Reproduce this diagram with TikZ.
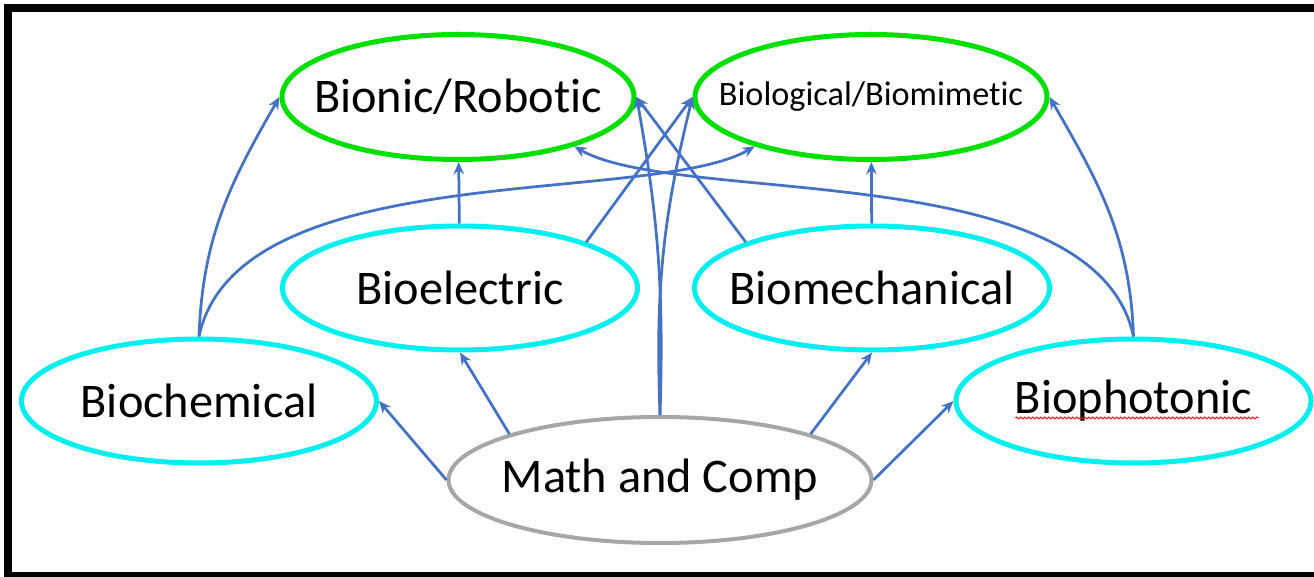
\documentclass[tikz,border=0pt]{standalone}
\usepackage{fontspec}
\setmainfont{Carlito}[Ligatures=NoCommon]
\usetikzlibrary{shapes.geometric,arrows.meta,decorations.pathmorphing}

\definecolor{ovalgreen}{HTML}{00E000}
\definecolor{ovalcyan}{HTML}{00F0F0}
\definecolor{ovalgray}{HTML}{A6A6A6}
\definecolor{linkblue}{HTML}{4472C4}

\tikzset{
	oval/.style={ellipse, draw=ovalcyan, line width=0.1cm, minimum width=7.1cm, minimum height=2.48cm, inner xsep=-1cm, inner ysep=0pt, font=\fontsize{27.5}{33}\selectfont},
	goal/.style={oval, draw=ovalgreen, minimum width=7.04cm, minimum height=2.5cm},
	base/.style={oval, draw=ovalgray, line width=0.08cm, minimum width=8.46cm, minimum height=2.52cm},
	link/.style={draw=linkblue, line width=0.055cm, -{Stealth[length=7pt,width=6pt]}}
}

\begin{document}
\begin{tikzpicture}
	\useasboundingbox (0,0) rectangle (26.28,11.52);
	%frame
		\draw[line width=0.16cm] (26.6,11.36) -- (0.16,11.36) -- (0.16,0) -- (26.6,0);
	%top row
		\node[goal] (bionic) at (9.16,9.58) {Bionic/Robotic};
		\node[goal, font=\fontsize{19.5}{23}\selectfont] (biomim) at (17.42,9.58) {Biological/Biomimetic};
	%middle row
		\node[oval] (elec) at (9.2,5.76) {Bioelectric};
		\node[oval] (mech) at (17.44,5.76) {Biomechanical};
	%bottom row
		\node[oval] (chem) at (3.98,3.5) {Biochemical};
		\node[oval] (photo) at (22.67,3.5) {Biophotonic};
		\node[base] (math) at (13.2,1.92) {Math and Comp};
	%spell check mark
		\draw[red, line width=0.02cm, decorate, decoration={snake, segment length=0.08cm, amplitude=0.02cm}] ([xshift=-2.36cm,yshift=-0.34cm]photo.center) -- ([xshift=2.5cm,yshift=-0.34cm]photo.center);
	%from math and comp
		\draw[link] (math.west) -- (chem.east);
		\draw[link] (math.163) -- (elec.south);
		\draw[link] (math.17) -- (mech.south);
		\draw[link] (math.east) -- (photo.west);
		\draw[link] (math.north) to[bend right=6] (bionic.east);
		\draw[link] (math.north) to[bend left=8] (biomim.west);
	%middle row up
		\draw[link] (elec) -- (bionic);
		\draw[link] (mech) -- (biomim);
		\draw[link] (elec.20) -- (biomim.west);
		\draw[link] (mech.160) -- (bionic.east);
	%outer curves
		\draw[link] (chem.north) to[out=88,in=240] (bionic.west);
		\draw[link] (chem.north) to[out=78,in=210,out distance=3.7cm,in distance=2.4cm] (biomim.203);
		\draw[link] (photo.north) to[out=92,in=-60] (biomim.east);
		\draw[link] (photo.north) to[out=102,in=-30,out distance=3.7cm,in distance=2.4cm] (bionic.-23);
\end{tikzpicture}
\end{document}
